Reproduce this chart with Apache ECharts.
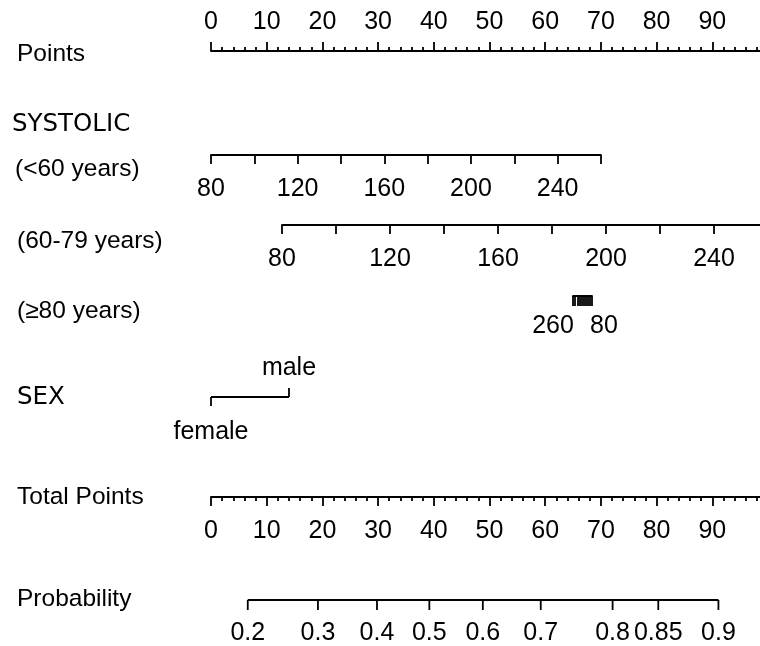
<!DOCTYPE html>
<html><head><meta charset="utf-8">
<script src="https://cdn.jsdelivr.net/npm/echarts@6/dist/echarts.min.js"></script>
<style>html,body{margin:0;padding:0;background:#fff}#c{width:760px;height:646px}</style>
</head><body><div id="c"></div>
<script>
// ---- data ----
const rowLabels = ['Points', 'SYSTOLIC', '(<60 years)', '(60-79 years)', '(\u226580 years)', 'SEX', 'Total Points', 'Probability'];
const pointsRange = [0, 100];
const pointsStep = 10;
const sbpStep = 20;
const sbpUnder60Range = [80, 260];
const sbpUnder60Points = [0, 70.0];        // points at 80 and at 260
const sbp60to79Range = [80, 260];
const sbp60to79Points = [12.75, 100];      // points at 80 and at 260
const sbp80plusRange = [80, 260];
const sbp80plusPoints = [68.4, 65.0];      // points at 80 and at 260 (reversed)
const sbpLabelValues = [80, 120, 160, 200, 240];
const sbp80plusLabelValues = [80, 260];
const sexCategories = ['female', 'male'];
const sexPoints = [0, 14];
const totalPointsRange = [0, 100];
const probTicks = ['0.2', '0.3', '0.4', '0.5', '0.6', '0.7', '0.8', '0.85', '0.9'];
const probTotalPoints = [6.6, 19.2, 29.8, 39.2, 48.8, 59.2, 72.1, 80.3, 91.1];

// ---- layout ----
const X0 = 211, PXPP = 5.57;
const px = p => X0 + p * PXPP;
const FONT = 'Liberation Sans, Arial, sans-serif';
const FS = 25;      // tick labels
const RFS = 24.5;   // row labels
const BLACK = '#000';
const LW = 1.8;

const grids = [], xAxes = [], yAxes = [], series = [];
function addGrid(left, width, lineY, top) {
  const i = grids.length;
  grids.push(top ? { left, width, top: lineY, height: 2, outerBoundsMode: 'none', containLabel: false }
                 : { left, width, top: lineY - 2, height: 2, outerBoundsMode: 'none', containLabel: false });
  yAxes.push({ gridIndex: i, type: 'value', min: 0, max: 1, show: false });
  return i;
}
function lbl(extra) {
  return Object.assign({ show: true, color: BLACK, fontSize: FS, fontFamily: FONT, margin: 22 }, extra || {});
}
function baseAxis(i, range, step, pos, extra) {
  return Object.assign({
    gridIndex: i, type: 'value', min: range[0], max: range[1], interval: step, position: pos,
    axisLine: { show: true, onZero: false, lineStyle: { color: BLACK, width: LW } },
    axisTick: { show: true, length: 9, lineStyle: { color: BLACK, width: LW } },
    splitLine: { show: false },
    axisLabel: lbl()
  }, extra || {});
}

// Points axis
let g = addGrid(px(pointsRange[0]), px(pointsRange[1]) - px(pointsRange[0]), 51, true);
xAxes.push(baseAxis(g, pointsRange, pointsStep, 'top', {
  minorTick: { show: true, splitNumber: 5, length: 4, lineStyle: { color: BLACK, width: LW } },
  axisLabel: lbl({ margin: 16, showMaxLabel: false })
}));

// SYSTOLIC <60
g = addGrid(px(sbpUnder60Points[0]), px(sbpUnder60Points[1]) - px(sbpUnder60Points[0]), 155, false);
xAxes.push(baseAxis(g, sbpUnder60Range, sbpStep, 'bottom', {
  axisLabel: lbl({ formatter: v => sbpLabelValues.includes(v) ? String(v) : '' })
}));

// SYSTOLIC 60-79
g = addGrid(px(sbp60to79Points[0]), px(sbp60to79Points[1]) - px(sbp60to79Points[0]), 225, false);
xAxes.push(baseAxis(g, sbp60to79Range, sbpStep, 'bottom', {
  axisLabel: lbl({ formatter: v => sbpLabelValues.includes(v) ? String(v) : '' })
}));

// SYSTOLIC >=80 (reversed)
g = addGrid(px(sbp80plusPoints[1]), px(sbp80plusPoints[0]) - px(sbp80plusPoints[1]), 296, false);
xAxes.push(baseAxis(g, sbp80plusRange, sbpStep, 'bottom', {
  inverse: true,
  axisTick: { show: true, length: 10, lineStyle: { color: BLACK, width: LW } },
  axisLabel: lbl({ margin: 18,
    formatter: v => v === sbp80plusLabelValues[0] ? '{l|' + v + '}' : (v === sbp80plusLabelValues[1] ? '{r|' + v + '}' : ''),
    rich: { l: { fontSize: FS, fontFamily: FONT, color: BLACK, padding: [0, 0, 0, 24] },
            r: { fontSize: FS, fontFamily: FONT, color: BLACK, padding: [0, 40, 0, 0] } } })
}));

// SEX (custom on points scale)
g = addGrid(px(pointsRange[0]), px(pointsRange[1]) - px(pointsRange[0]), 397, false);
xAxes.push({ gridIndex: g, type: 'value', min: pointsRange[0], max: pointsRange[1], show: false });
series.push({
  type: 'custom', xAxisIndex: g, yAxisIndex: g, clip: false, silent: true,
  data: sexPoints.map((p, i) => [p, 0, i]),
  renderItem: (params, api) => {
    const i = api.value(2);
    const c = api.coord([api.value(0), 0]);
    const children = [];
    const up = i === 1;
    children.push({ type: 'line', shape: { x1: c[0], y1: c[1], x2: c[0], y2: c[1] + (up ? -9 : 9) },
      style: { stroke: BLACK, lineWidth: LW } });
    if (i === 0) {
      const e = api.coord([sexPoints[sexPoints.length - 1], 0]);
      children.push({ type: 'line', shape: { x1: c[0], y1: c[1], x2: e[0], y2: e[1] }, style: { stroke: BLACK, lineWidth: LW } });
    }
    children.push({ type: 'text', x: c[0], y: c[1] + (up ? -29 : 35),
      style: { text: sexCategories[i], fill: BLACK, font: FS + 'px ' + FONT, align: 'center', verticalAlign: 'middle' } });
    return { type: 'group', children };
  }
});

// Total Points
g = addGrid(px(totalPointsRange[0]), px(totalPointsRange[1]) - px(totalPointsRange[0]), 497, false);
xAxes.push(baseAxis(g, totalPointsRange, pointsStep, 'bottom', {
  minorTick: { show: true, splitNumber: 5, length: 4, lineStyle: { color: BLACK, width: LW } },
  axisLabel: lbl({ showMaxLabel: false })
}));

// Probability (custom on total points scale)
g = addGrid(px(totalPointsRange[0]), px(totalPointsRange[1]) - px(totalPointsRange[0]), 600, false);
xAxes.push({ gridIndex: g, type: 'value', min: totalPointsRange[0], max: totalPointsRange[1], show: false });
series.push({
  type: 'custom', xAxisIndex: g, yAxisIndex: g, clip: false, silent: true,
  data: probTotalPoints.map((p, i) => [p, 0, i]),
  renderItem: (params, api) => {
    const i = api.value(2);
    const c = api.coord([api.value(0), 0]);
    const children = [];
    children.push({ type: 'line', shape: { x1: c[0], y1: c[1], x2: c[0], y2: c[1] + 10 }, style: { stroke: BLACK, lineWidth: LW } });
    if (i === 0) {
      const e = api.coord([probTotalPoints[probTotalPoints.length - 1], 0]);
      children.push({ type: 'line', shape: { x1: c[0], y1: c[1], x2: e[0], y2: e[1] }, style: { stroke: BLACK, lineWidth: LW } });
    }
    children.push({ type: 'text', x: c[0], y: c[1] + 33,
      style: { text: probTicks[i], fill: BLACK, font: FS + 'px ' + FONT, align: 'center', verticalAlign: 'middle' } });
    return { type: 'group', children };
  }
});

// Row labels
const rowLabelPos = [[17, 55, FONT], [12, 125, 'DejaVu Sans, sans-serif'], [15, 170, FONT], [17, 242, FONT],
                     [17, 312, FONT], [17, 398, 'DejaVu Sans, sans-serif'], [17, 498, FONT], [17, 600, FONT]];
const graphic = rowLabels.map((t, i) => ({
  type: 'text', left: rowLabelPos[i][0], top: rowLabelPos[i][1] - RFS / 2 - 1,
  style: { text: t, fill: BLACK, font: RFS + 'px ' + rowLabelPos[i][2] }
}));

const chart = echarts.init(document.getElementById('c'), null, { renderer: 'canvas' });
chart.setOption({
  animation: false,
  backgroundColor: '#fff',
  grid: grids, xAxis: xAxes, yAxis: yAxes, series, graphic
});
</script></body></html>
